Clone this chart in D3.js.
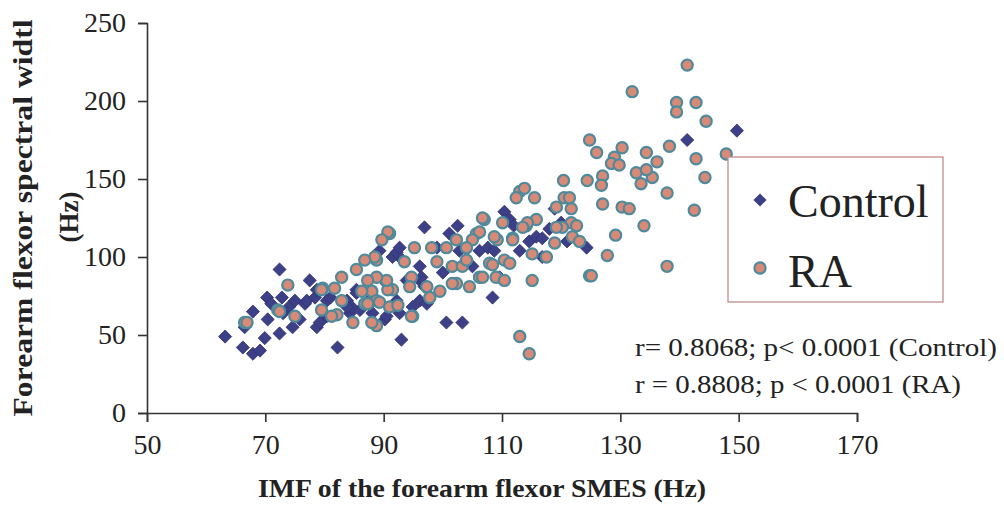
<!DOCTYPE html>
<html lang="en">
<head>
    <meta charset="UTF-8">
    <title>IMF vs spectral width</title>
    <script src="https://d3js.org/d3.v7.min.js"></script>
    <style>
        body { margin: 0; background: #fff; }
        svg text { font-family: "Liberation Serif", "Times New Roman", serif; fill: #222; }
    </style>
</head>
<body>
    <div id="chart"></div>

    <script>
        const width = 1004;
        const height = 522;

        // axis ticks
        const xTicks = [50, 70, 90, 110, 130, 150, 170];
        const yTicks = [0, 50, 100, 150, 200, 250];

        // Control group: [IMF (Hz), spectral width (Hz)]
        const controlPoints = [
            [63.2,49],[66.2,42],[67.9,38],[69.1,40],[69.9,48],[66.5,55],[67.9,65],[70.4,60],[70.3,74],[72.4,92],
            [72.4,51],[72.8,74],[74.6,55],[75.8,60],[76.7,70],[77,72],[77.5,85],[78.4,74],[78.7,79],[78.7,55],
            [79.2,58],[80.4,62],[80.4,72],[82.2,42],[83.8,72],[84.3,64],[84.6,68],[85.4,79],[85.4,77],[83.8,68],
            [88.1,64],[89.3,104],[90.2,60],[90.5,62],[90.5,83],[91.5,100],[92.2,72],[92.2,103],[92.7,106],[92.7,64],
            [93,47],[93.2,98],[93.9,85],[94.9,68],[96.1,85],[96.1,72],[96.1,94],[96.4,87],[96.9,81],[96.9,119],
            [97.3,70],[100,90],[100.6,58],[101.1,115],[102.5,120],[102.8,104],[103.3,58],[105,94],[106.2,104],[107.6,106],
            [108.4,74],[108.7,104],[109.6,87],[110.4,129],[111.3,124],[114.6,110],[115.8,113],[116.8,112],[116.8,100],[118.9,131],
            [118,118],[120,122],[121,110],[124.3,106],[141.3,175],[149.7,181],[71,70],[73,64],[74,68],[75,72],
            [81,74],[86,66],[88,74],[99,106],[104,96],[112,120],[113,104]
        ];

        // RA group
        const raPoints = [
            [141.3,223],[132,206],[139.5,199],[139.5,193],[142.8,199],[144.5,187],[147.9,166],[142.8,163],[144.3,151],[142.5,130],
            [138.3,171],[134.4,167],[136.2,161],[135.4,151],[137.9,141],[124.8,175],[126,167],[130.3,170],[129,164],[128.5,160],
            [129.8,159],[132.7,154],[134.4,156],[133.5,147],[127,152],[126.8,146],[124.4,149],[120.4,149],[120.5,138],[121.7,131],
            [127,134],[130.3,132],[131.5,131],[134,120],[129.2,114],[127.8,101],[124.8,88],[137.9,94],[121.7,122],[120.2,119],
            [121.9,113],[118.9,109],[123.1,110],[113,142],[112.4,138],[113.8,144],[115.5,138],[114.1,120],[115.8,124],[107,124],
            [110.1,122],[109.2,111],[105.7,115],[106.2,116],[105,111],[104,106],[102.3,111],[100.6,106],[98.1,106],[95.2,106],
            [91,115],[90.7,116],[89.7,111],[88.8,98],[88.5,100],[86.8,98],[85.4,92],[82.9,87],[93.5,97],[99,97],
            [101.6,94],[103.3,94],[104,98],[106.2,87],[107.9,96],[108.4,95],[110.4,98],[109,87],[110.4,85],[106.7,87],
            [104.5,81],[102.3,83],[101.6,83],[99.5,78],[97.3,81],[97.8,74],[94.7,87],[94.4,81],[91.5,79],[90.7,79],
            [90.5,85],[88.8,87],[87.3,85],[88,78],[86.3,78],[88.8,72],[89.3,71],[86.8,70],[87.3,70],[91,68],
            [92.4,69],[94.9,62],[94.7,62],[88.8,56],[88,58],[84.8,58],[82.1,63],[81.2,62],[79.5,66],[79.7,80],
            [79.5,79],[81.7,80],[82.9,72],[73.8,82],[72.1,66],[72.4,65],[75,62],[66.5,58],[66.9,58],[113,49],
            [114.6,38],[115.1,85],[119.2,132],[121.4,138],[106.7,125],[114.3,122],[113.5,119],[119.2,119],[122.6,120],[115.1,102],
            [117.5,100],[108.7,113],[111.8,112],[111.8,111],[111.3,96],[125.1,88]
        ];

        const seriesNames = ["Control", "RA"];
        const statLines = [
            "r=  0.8068; p< 0.0001 (Control)",
            "r = 0.8808; p < 0.0001 (RA)"
        ];

        const svg = d3.select("#chart")
                      .append("svg")
                      .attr("width", width)
                      .attr("height", height);

        const x = d3.scaleLinear().domain([50, 170]).range([147, 857]);
        const y = d3.scaleLinear().domain([0, 250]).range([413, 23]);

        const axisColor = "#333";

        // x axis
        const xAxis = svg.append("g")
            .attr("transform", `translate(0,${y(0)})`)
            .call(d3.axisBottom(x).tickValues(xTicks).tickSize(9).tickPadding(12));
        // y axis
        const yAxis = svg.append("g")
            .attr("transform", `translate(${x(50)},0)`)
            .call(d3.axisLeft(y).tickValues(yTicks).tickSize(9).tickPadding(12));

        [xAxis, yAxis].forEach(g => {
            g.select(".domain").attr("stroke", axisColor).attr("stroke-width", 1.6);
            g.selectAll(".tick line").attr("stroke", axisColor).attr("stroke-width", 1.6);
            g.selectAll(".tick text")
                .style("font-family", "'Liberation Serif', serif")
                .style("font-size", "28px")
                .attr("fill", "#333");
        });

        // axis titles
        svg.append("text")
            .attr("x", 482).attr("y", 497)
            .attr("text-anchor", "middle")
            .attr("textLength", 448)
            .attr("lengthAdjust", "spacingAndGlyphs")
            .style("font-size", "26px").style("font-weight", "bold")
            .text("IMF of the forearm flexor SMES (Hz)");

        svg.append("text")
            .attr("transform", "translate(32,218) rotate(-90)")
            .attr("text-anchor", "middle")
            .attr("textLength", 397)
            .attr("lengthAdjust", "spacingAndGlyphs")
            .style("font-size", "27px").style("font-weight", "bold")
            .text("Forearm flexor spectral widtl");
        svg.append("text")
            .attr("transform", "translate(78,217) rotate(-90)")
            .attr("text-anchor", "middle")
            .style("font-size", "27px").style("font-weight", "bold")
            .text("(Hz)");

        const diamond = d3.symbol().type(d3.symbolDiamond2).size(110);

        // control diamonds
        svg.append("g")
            .selectAll("path")
            .data(controlPoints)
            .enter()
            .append("path")
            .attr("d", diamond)
            .attr("transform", d => `translate(${x(d[0])},${y(d[1])})`)
            .attr("fill", "#3d4086")
            .attr("stroke", "#2f3170")
            .attr("stroke-width", 0.8);

        // RA circles
        svg.append("g")
            .selectAll("circle")
            .data(raPoints)
            .enter()
            .append("circle")
            .attr("cx", d => x(d[0]))
            .attr("cy", d => y(d[1]))
            .attr("r", 5.6)
            .attr("fill", "#d98a76")
            .attr("stroke", "#4e8a9b")
            .attr("stroke-width", 2.2);

        // legend
        const legend = svg.append("g");
        legend.append("rect")
            .attr("x", 728).attr("y", 157)
            .attr("width", 215).attr("height", 145)
            .attr("fill", "#fff")
            .attr("stroke", "#c48a8a")
            .attr("stroke-width", 1.3);
        legend.append("path")
            .attr("d", diamond)
            .attr("transform", "translate(760,200)")
            .attr("fill", "#3d4086");
        legend.append("circle")
            .attr("cx", 760).attr("cy", 268).attr("r", 5.6)
            .attr("fill", "#d98a76").attr("stroke", "#4e8a9b").attr("stroke-width", 2.2);
        legend.selectAll("text.lab")
            .data(seriesNames)
            .enter()
            .append("text")
            .attr("class", "lab")
            .attr("x", 788)
            .attr("y", (d, i) => 217 + i * 70)
            .style("font-size", "46px")
            .text(d => d);

        // correlation text
        const statLen = [362, 326];
        svg.selectAll("text.stat")
            .data(statLines)
            .enter()
            .append("text")
            .attr("class", "stat")
            .attr("x", 635)
            .attr("y", (d, i) => 356 + i * 37)
            .attr("textLength", (d, i) => statLen[i])
            .attr("lengthAdjust", "spacingAndGlyphs")
            .style("font-size", "26px")
            .text(d => d);
    </script>
</body>
</html>
